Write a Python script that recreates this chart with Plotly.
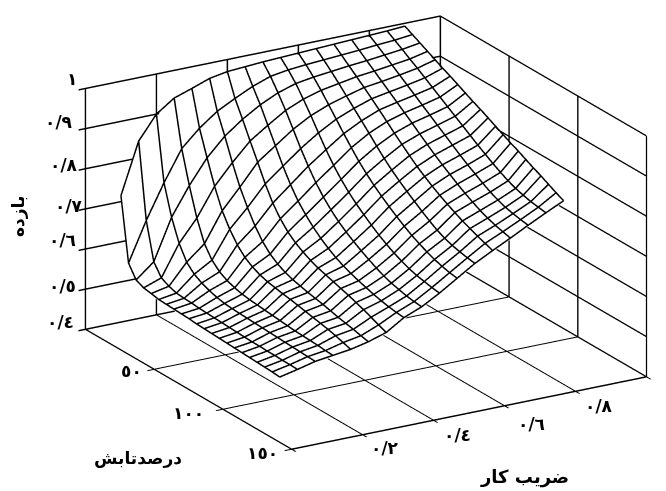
import numpy as np
import plotly.graph_objects as go

work_factor = [0.10, 0.15, 0.20, 0.25, 0.30, 0.35, 0.40, 0.45, 0.50, 0.55, 0.60, 0.65, 0.70, 0.75, 0.80, 0.85, 0.90]
irradiance = [0, 5.5, 11, 16.5, 22, 27.5, 33, 38.5, 44, 49.5, 55, 60.5, 66, 71.5, 77, 82.5, 88, 93.5, 99, 104.5, 110, 115.5]

# efficiency along irradiance, one list per work factor
eff_10 = [.715, .558, .527, .518, .515, .511, .510, .509, .508, .507, .505, .504, .503, .502, .501, .500, .499, .498, .497, .496, .495, .493]
eff_15 = [.842, .655, .563, .534, .524, .518, .516, .515, .513, .512, .511, .510, .509, .508, .507, .506, .506, .505, .505, .504, .504, .503]
eff_20 = [.900, .740, .665, .611, .575, .556, .545, .537, .531, .527, .525, .524, .523, .522, .521, .520, .519, .518, .517, .516, .515, .514]
eff_25 = [.931, .816, .735, .665, .612, .582, .564, .553, .546, .541, .538, .536, .534, .532, .530, .528, .526, .525, .524, .523, .521, .520]
eff_30 = [.946, .858, .795, .735, .685, .650, .622, .602, .589, .580, .574, .570, .566, .563, .559, .555, .551, .547, .543, .538, .532, .526]
eff_35 = [.962, .891, .840, .785, .735, .695, .660, .632, .612, .598, .588, .581, .576, .571, .567, .563, .558, .553, .549, .545, .540, .536]
eff_40 = [.970, .914, .873, .830, .788, .745, .708, .680, .658, .642, .630, .620, .612, .606, .600, .594, .588, .581, .574, .566, .558, .550]
eff_45 = [.973, .935, .900, .860, .820, .780, .745, .715, .692, .672, .655, .641, .629, .619, .611, .604, .598, .592, .587, .583, .580, .578]
eff_50 = [.976, .951, .921, .888, .852, .815, .782, .752, .727, .706, .688, .673, .660, .648, .637, .627, .618, .611, .606, .601, .598, .596]
eff_55 = [.978, .958, .935, .907, .877, .845, .814, .786, .762, .741, .723, .707, .692, .678, .666, .655, .646, .638, .632, .628, .624, .621]
eff_60 = [.980, .962, .942, .920, .895, .870, .845, .821, .798, .778, .760, .744, .729, .715, .702, .690, .680, .671, .663, .657, .652, .649]
eff_65 = [.982, .965, .947, .928, .908, .888, .868, .848, .827, .807, .789, .773, .758, .744, .730, .717, .705, .696, .689, .684, .680, .677]
eff_70 = [.984, .968, .952, .936, .920, .903, .886, .868, .850, .833, .816, .800, .786, .773, .761, .750, .740, .730, .722, .714, .707, .700]
eff_75 = [.986, .971, .956, .941, .926, .911, .896, .881, .866, .850, .835, .820, .806, .793, .780, .768, .757, .747, .739, .732, .727, .722]
eff_80 = [.988, .975, .961, .947, .933, .919, .905, .891, .877, .863, .849, .835, .821, .808, .796, .784, .773, .764, .757, .752, .748, .745]
eff_85 = [.990, .978, .966, .953, .941, .928, .915, .902, .889, .876, .863, .850, .837, .825, .813, .802, .792, .784, .778, .773, .770, .767]
eff_90 = [.993, .983, .973, .963, .953, .943, .934, .924, .914, .904, .895, .885, .875, .865, .855, .846, .836, .826, .817, .807, .797, .788]

work_ticks = [0.2, 0.4, 0.6, 0.8]
work_labels = ['٠/٢', '٠/٤', '٠/٦', '٠/٨']
irr_ticks = [50, 100, 150]
irr_labels = ['٥٠', '١٠٠', '١٥٠']
eff_ticks = [0.4, 0.5, 0.6, 0.7, 0.8, 0.9, 1.0]
eff_labels = ['٠/٤', '٠/٥', '٠/٦', '٠/٧', '٠/٨', '٠/٩', '١']

FONT = 'DejaVu Sans'
EYE = np.array([-0.4786, -0.8081, 0.3446]) * 6.0
ZOOM = 1.774  # ortho scale follows aspectratio, not the eye distance
LIFT = 0.036  # moves the box up on the page by about 8px

z = np.array([eff_10, eff_15, eff_20, eff_25, eff_30, eff_35, eff_40, eff_45, eff_50,
              eff_55, eff_60, eff_65, eff_70, eff_75, eff_80, eff_85, eff_90]).T

# white sheet just under the wire so the lines stay on top
sheet = go.Surface(
    x=work_factor, y=irradiance, z=z - 0.004,
    colorscale=[[0, 'white'], [1, 'white']], showscale=False, hoverinfo='skip',
    lighting=dict(ambient=1, diffuse=0, specular=0, fresnel=0),
)

wire_x, wire_y, wire_z = [], [], []
for j, wf in enumerate(work_factor):
    wire_x += [wf] * len(irradiance) + [None]
    wire_y += irradiance + [None]
    wire_z += list(z[:, j]) + [None]
for i, ir in enumerate(irradiance):
    wire_x += work_factor + [None]
    wire_y += [ir] * len(work_factor) + [None]
    wire_z += list(z[i, :]) + [None]

wire = go.Scatter3d(x=wire_x, y=wire_y, z=wire_z, mode='lines', hoverinfo='skip',
                    line=dict(color='black', width=3))

fig = go.Figure([sheet, wire])


def axis(vals, rng):
    return dict(title='', range=rng, tickvals=vals, ticktext=[''] * len(vals), showticklabels=False,
                ticks='outside', ticklen=8, tickcolor='black', tickwidth=3,
                gridcolor='black', gridwidth=3, showline=True, linecolor='black', linewidth=3,
                showbackground=False, zeroline=False, showspikes=False)


def tick_note(text, x, y, z_val, dx, dy):
    return dict(x=x, y=y, z=z_val, text='<b>' + text + '</b>', showarrow=False, xshift=dx, yshift=dy,
                font=dict(family=FONT, size=17, color='black'))


def title_note(text, px, py, size, angle=0):
    return dict(text='<b>' + text + '</b>', x=px / 666, y=(491 - py) / 491, xref='paper', yref='paper',
                xanchor='center', yanchor='middle', showarrow=False, textangle=angle,
                font=dict(family=FONT, size=size, color='black'))


notes = []
for t, lab, (dx, dy) in zip(work_ticks, work_labels, [(23, -13), (24, -15), (27, -18), (24, -15)]):
    notes.append(tick_note(lab, t, 150, 0.4, dx, dy))
for t, lab, (dx, dy) in zip(irr_ticks, irr_labels, [(-22, -2), (-34, -4), (-29, -4)]):
    notes.append(tick_note(lab, 0, t, 0.4, dx, dy))
for t, lab, (dx, dy) in zip(eff_ticks, eff_labels, [(-25, 7), (-23, 3), (-23, 9), (-16, 3), (-21, 4), (-26, 7), (-13, 9)]):
    notes.append(tick_note(lab, 0, 0, t, dx, dy))

fig.update_layout(
    width=666, height=491, margin=dict(l=0, r=0, t=0, b=0),
    paper_bgcolor='white', showlegend=False,
    scene=dict(
        domain=dict(x=[0.085, 0.989], y=[0.053, 1]),
        xaxis=axis([0, 0.2, 0.4, 0.6, 0.8, 1.0], [0, 1]),
        yaxis=axis([0, 50, 100, 150], [150, 0]),
        zaxis=axis(eff_ticks, [0.4, 1.0]),
        aspectmode='manual', aspectratio=dict(x=1 * ZOOM, y=0.981 * ZOOM, z=0.622 * ZOOM),
        camera=dict(projection=dict(type='orthographic'), up=dict(x=0, y=0, z=1),
                    eye=dict(x=EYE[0], y=EYE[1], z=EYE[2] - LIFT), center=dict(x=0, y=0, z=-LIFT)),
        annotations=notes,
    ),
    annotations=[
        title_note('ضریب کار', 516, 469, 18),
        title_note('درصدتابش', 130, 450, 17),
        title_note('بازده', 10, 209, 17, angle=-90),
    ],
)

fig.write_html('out.html')
